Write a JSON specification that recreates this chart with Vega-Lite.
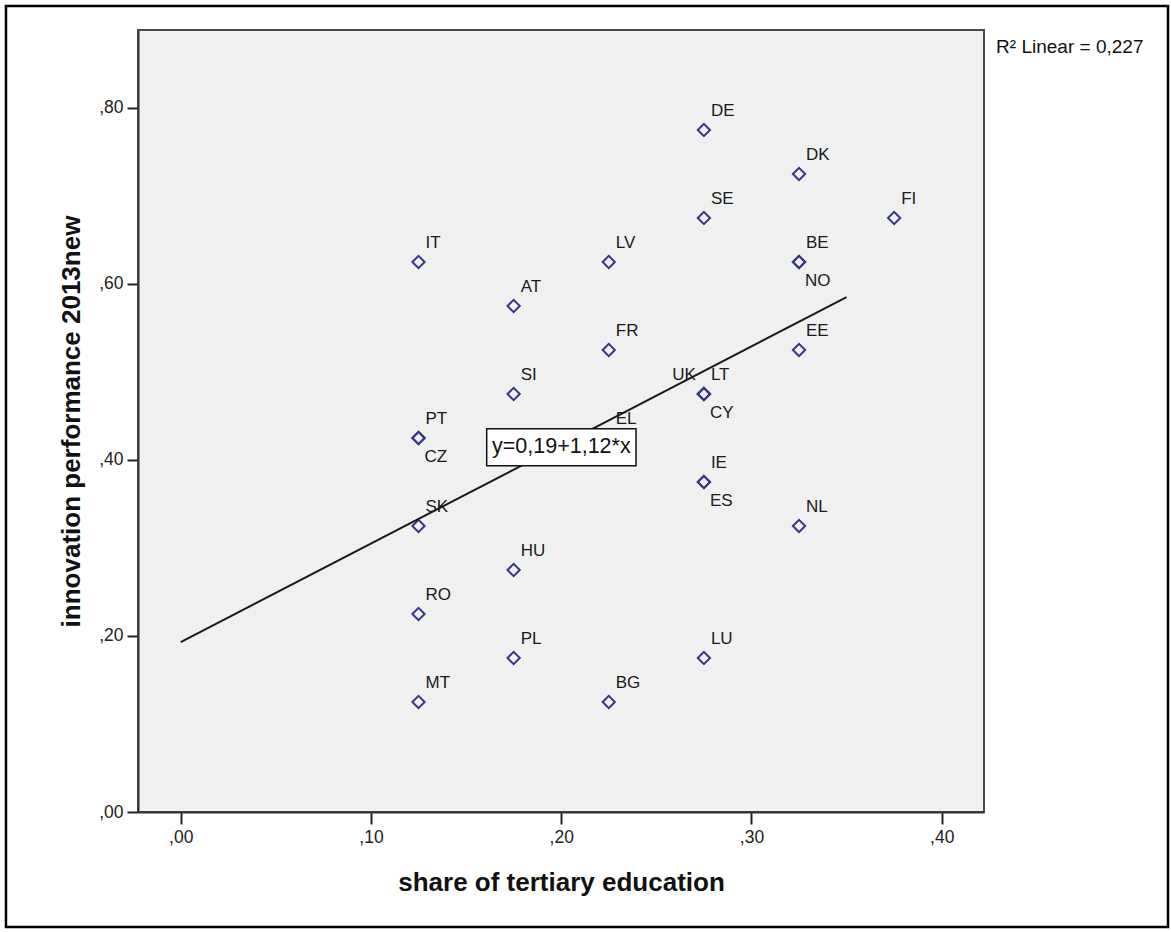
{
  "$schema": "https://vega.github.io/schema/vega-lite/v6.json",
  "width": 846,
  "height": 782,
  "autosize": {"type": "none"},
  "padding": {"left": 138, "top": 30, "right": 187, "bottom": 120},
  "background": "white",
  "config": {
    "font": "Liberation Sans",
    "view": {"fill": "#f0f0f0", "stroke": "#4a4a4a", "strokeWidth": 2},
    "axis": {
      "grid": false,
      "domainColor": "#333333",
      "domainWidth": 2,
      "tickColor": "#222222",
      "tickWidth": 2,
      "labelFont": "Liberation Sans",
      "labelFontSize": 17.5,
      "labelColor": "#222222",
      "titleFont": "Liberation Sans",
      "titleFontSize": 26,
      "titleFontWeight": "bold",
      "titleColor": "#111111"
    }
  },
  "data": {
    "values": [
      {"country": "DE", "tertiary": 0.275, "innovation": 0.775},
      {"country": "DK", "tertiary": 0.325, "innovation": 0.725},
      {"country": "FI", "tertiary": 0.375, "innovation": 0.675},
      {"country": "SE", "tertiary": 0.275, "innovation": 0.675},
      {"country": "BE", "tertiary": 0.325, "innovation": 0.625},
      {"country": "NO", "tertiary": 0.325, "innovation": 0.625},
      {"country": "IT", "tertiary": 0.125, "innovation": 0.625},
      {"country": "LV", "tertiary": 0.225, "innovation": 0.625},
      {"country": "AT", "tertiary": 0.175, "innovation": 0.575},
      {"country": "FR", "tertiary": 0.225, "innovation": 0.525},
      {"country": "EE", "tertiary": 0.325, "innovation": 0.525},
      {"country": "SI", "tertiary": 0.175, "innovation": 0.475},
      {"country": "UK", "tertiary": 0.275, "innovation": 0.475},
      {"country": "LT", "tertiary": 0.275, "innovation": 0.475},
      {"country": "CY", "tertiary": 0.275, "innovation": 0.475},
      {"country": "PT", "tertiary": 0.125, "innovation": 0.425},
      {"country": "CZ", "tertiary": 0.125, "innovation": 0.425},
      {"country": "EL", "tertiary": 0.225, "innovation": 0.425},
      {"country": "IE", "tertiary": 0.275, "innovation": 0.375},
      {"country": "ES", "tertiary": 0.275, "innovation": 0.375},
      {"country": "SK", "tertiary": 0.125, "innovation": 0.325},
      {"country": "NL", "tertiary": 0.325, "innovation": 0.325},
      {"country": "HU", "tertiary": 0.175, "innovation": 0.275},
      {"country": "RO", "tertiary": 0.125, "innovation": 0.225},
      {"country": "PL", "tertiary": 0.175, "innovation": 0.175},
      {"country": "LU", "tertiary": 0.275, "innovation": 0.175},
      {"country": "MT", "tertiary": 0.125, "innovation": 0.125},
      {"country": "BG", "tertiary": 0.225, "innovation": 0.125}
    ]
  },
  "encoding": {
    "x": {
      "field": "tertiary",
      "type": "quantitative",
      "scale": {"domain": [-0.02244, 0.42223], "nice": false, "zero": false},
      "axis": {
        "title": "share of tertiary education",
        "values": [0, 0.1, 0.2, 0.3, 0.4],
        "labelExpr": "replace(format(datum.value, '.2f'), '0.', ',')",
        "tickSize": 12,
        "labelPadding": 4,
        "titlePadding": 24
      }
    },
    "y": {
      "field": "innovation",
      "type": "quantitative",
      "scale": {"domain": [0, 0.8886], "nice": false, "zero": false},
      "axis": {
        "title": "innovation performance 2013new",
        "values": [0, 0.2, 0.4, 0.6, 0.8],
        "labelExpr": "replace(format(datum.value, '.2f'), '0.', ',')",
        "tickSize": 11,
        "labelPadding": 4,
        "titlePadding": 14
      }
    }
  },
  "layer": [
    {
      "mark": {"type": "point", "shape": "diamond", "size": 150, "filled": false, "stroke": "#35358c", "strokeWidth": 2, "opacity": 1}
    },
    {
      "transform": [{"filter": "indexof(['NO','CZ','ES','CY','UK'], datum.country) < 0"}],
      "mark": {"type": "text", "align": "left", "baseline": "middle", "dx": 7, "dy": -19, "fontSize": 17, "color": "#1a1a1a"},
      "encoding": {"text": {"field": "country"}}
    },
    {
      "transform": [{"filter": "indexof(['NO','CZ','ES','CY'], datum.country) >= 0"}],
      "mark": {"type": "text", "align": "left", "baseline": "middle", "dx": 6, "dy": 19, "fontSize": 17, "color": "#1a1a1a"},
      "encoding": {"text": {"field": "country"}}
    },
    {
      "transform": [{"filter": "datum.country == 'UK'"}],
      "mark": {"type": "text", "align": "right", "baseline": "middle", "dx": -8, "dy": -19, "fontSize": 17, "color": "#1a1a1a"},
      "encoding": {"text": {"field": "country"}}
    },
    {
      "data": {"values": [{"tertiary": 0, "innovation": 0.193}, {"tertiary": 0.35, "innovation": 0.585}]},
      "mark": {"type": "line", "color": "#1a1a1a", "strokeWidth": 2}
    },
    {
      "data": {"values": [{"x1": 0.16084, "x2": 0.23932, "y1": 0.43557, "y2": 0.39352}]},
      "mark": {"type": "rect", "fill": "white", "stroke": "#111111", "strokeWidth": 1.5},
      "encoding": {
        "x": {"field": "x1", "type": "quantitative"},
        "x2": {"field": "x2"},
        "y": {"field": "y1", "type": "quantitative"},
        "y2": {"field": "y2"}
      }
    },
    {
      "data": {"values": [{"tertiary": 0.20008, "innovation": 0.4145, "label": "y=0,19+1,12*x"}]},
      "mark": {"type": "text", "align": "center", "baseline": "middle", "fontSize": 21.5, "color": "#111111"},
      "encoding": {"text": {"field": "label"}}
    },
    {
      "data": {"values": [{"tertiary": 0.4286, "innovation": 0.8697, "label": "R² Linear = 0,227"}]},
      "mark": {"type": "text", "align": "left", "baseline": "middle", "fontSize": 19, "color": "#111111", "clip": false},
      "encoding": {"text": {"field": "label"}}
    },
    {
      "data": {"values": [{"x1": -0.09183, "x2": 0.51895, "y1": 0.9159, "y2": -0.1307}]},
      "mark": {"type": "rect", "fill": null, "fillOpacity": 0, "stroke": "black", "strokeWidth": 2.5, "clip": false},
      "encoding": {
        "x": {"field": "x1", "type": "quantitative"},
        "x2": {"field": "x2"},
        "y": {"field": "y1", "type": "quantitative"},
        "y2": {"field": "y2"}
      }
    }
  ]
}
